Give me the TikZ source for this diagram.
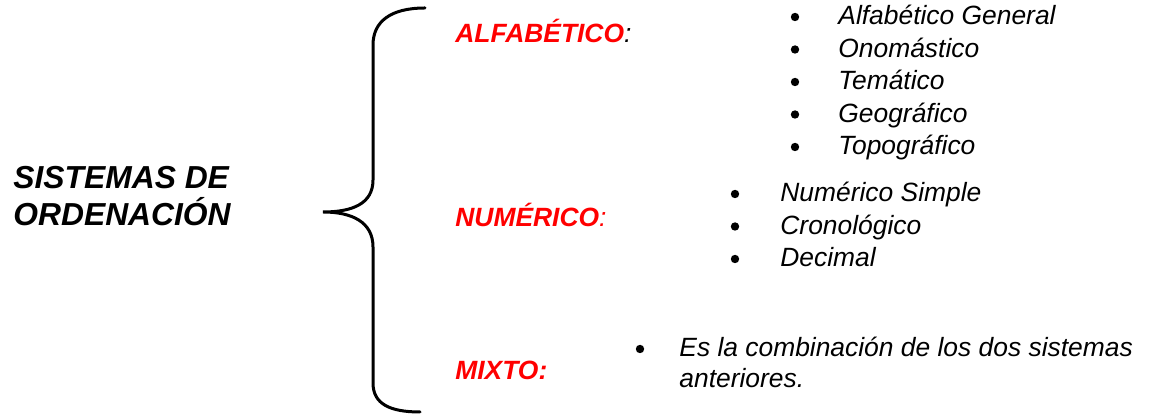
\documentclass[tikz,border=0pt]{standalone}
\usepackage{fontspec}
\setmainfont{Liberation Sans}
\usetikzlibrary{positioning}
\definecolor{labelred}{HTML}{FF0000}

\begin{document}
\begin{tikzpicture}[x=0.5pt,y=-0.5pt,
  title/.style={anchor=base west,inner sep=0pt,
    font=\fontsize{15.9}{18}\selectfont\bfseries\itshape},
  kind/.style={anchor=base west,inner sep=0pt,text=labelred,
    font=\fontsize{13.2}{15}\selectfont\bfseries\itshape},
  item/.style={anchor=base west,inner sep=0pt,
    font=\fontsize{13.2}{15}\selectfont\itshape},
  dot/.style={circle,fill=black,inner sep=0pt,minimum size=4.2pt},
  brace/.style={line width=1.5pt,line cap=round}
]
\useasboundingbox (0,0) rectangle (1152,415);

% big brace
\draw[brace] (425,8) .. controls (390,8) and (373,22) .. (373,45)
  -- (373,180) .. controls (373,204) and (352,212) .. (323,212)
  .. controls (352,212) and (373,222) .. (373,247)
  -- (373,383) .. controls (373,404) and (390,412) .. (420,412);

% title
\node[title] (sist) at (13,189) {SISTEMAS DE};
\node[title] (orden) at (13,226) {ORDENACIÓN};

% kinds
\node[kind] (alfa) at (455,43) {ALFABÉTICO\textcolor{black}{\mdseries:}};
\node[kind] (nume) at (455,227) {NUMÉRICO{\mdseries:}};
\node[kind] (mixto) at (455,380) {MIXTO:};

% alphabetic list
\foreach \txt [count=\i] in {Alfabético General,Onomástico,Temático,Geográfico,Topográfico}{
  \node[item] (alfa-\i) at (838,{25+32.5*(\i-1)}) {\txt};
  \node[dot] (alfadot-\i) at ([shift={(-43,-8)}]alfa-\i.base west) {};
}

% numeric list
\foreach \txt [count=\i] in {Numérico Simple,Cronológico,Decimal}{
  \node[item] (nume-\i) at (780,{202+32.5*(\i-1)}) {\txt};
  \node[dot] (numedot-\i) at ([shift={(-45,-8)}]nume-\i.base west) {};
}

% mixed
\node[item] (mixto-1) at (679,357) {Es la combinación de los dos sistemas};
\node[item] (mixto-2) at (679,388) {anteriores.};
\node[dot] (mixtodot) at ([shift={(-39,-8)}]mixto-1.base west) {};
\end{tikzpicture}
\end{document}
